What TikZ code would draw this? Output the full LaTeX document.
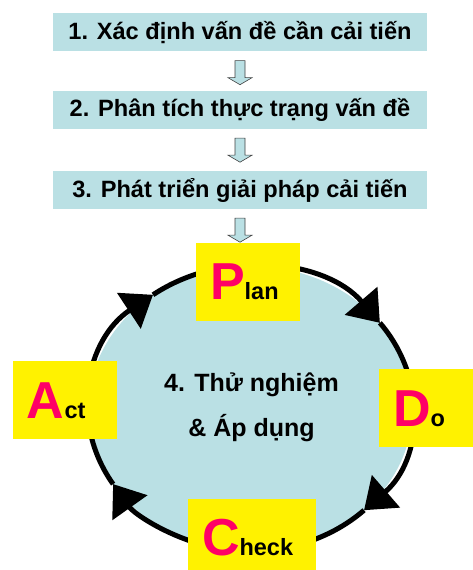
\documentclass[tikz,border=0pt]{standalone}
\usepackage{fontspec}
\setmainfont{Liberation Sans}
\usetikzlibrary{arrows.meta,calc}
\definecolor{softblue}{HTML}{BAE0E4}
\definecolor{pdcapink}{HTML}{FF0066}
\tikzset{
  stepbox/.style={fill=softblue,minimum width=374pt,minimum height=38pt,inner sep=0pt,
    font=\fontsize{23.6}{26}\selectfont\bfseries},
  phasebox/.style={fill=yellow,inner xsep=14pt,inner ysep=0pt,text width=#1,align=left,
    minimum height=78pt,font=\fontsize{23.5}{26}\selectfont\bfseries},
  phasebox/.default=76pt,
  blockarrow/.style={draw=black!75,fill=softblue,line width=0.6pt,line join=miter},
  ring/.style={line width=5pt,-{Triangle[length=29pt,width=42pt]}}
}
\newcommand{\phaseletter}[1]{{\color{pdcapink}\fontsize{52}{56}\selectfont #1}}
\begin{document}
\begin{tikzpicture}[x=1pt,y=1pt]
\useasboundingbox (0,0) rectangle (473,570);

% three steps
\node[stepbox] (step1) at (240,537.5) {1. Xác định vấn đề cần cải tiến};
\node[stepbox] (step2) at (240,460) {2. Phân tích thực trạng vấn đề};
\node[stepbox] (step3) at (240,380) {3. Phát triển giải pháp cải tiến};

% the cycle
\coordinate (hub) at (250.5,161.4);
\fill[softblue] (hub) ellipse[x radius=162, y radius=142.5];
\foreach \s/\e in {127/37, 37/-45.5, -45.5/-148, 212/127}
  \draw[ring] (hub) ++(\s:162 and 142.5) arc[start angle=\s, end angle=\e, x radius=162, y radius=142.5];

\node[phasebox] (plan) at (248,288) {\phaseletter{P}lan};
\node[phasebox] (do) at (431,161.5) {\phaseletter{D}o};
\node[phasebox=100pt] (check) at (252,32) {\phaseletter{C}heck};
\node[phasebox] (act) at (65,169.5) {\phaseletter{A}ct};

\node[font=\fontsize{25}{28}\selectfont\bfseries,anchor=base] (try) at (251.5,178) {4. Thử nghiệm};
\node[font=\fontsize{25}{28}\selectfont\bfseries,anchor=base] (apply) at (251.5,133) {\& Áp dụng};

% block arrows
\foreach \a in {step1,step2,step3}
  \draw[blockarrow] ($(\a.south)+(-5,-9)$) -- ++(0,-17) -- ++(-7,0) -- ++(12,-7)
    -- ++(12,7) -- ++(-7,0) -- ++(0,17) -- cycle;

\end{tikzpicture}
\end{document}
